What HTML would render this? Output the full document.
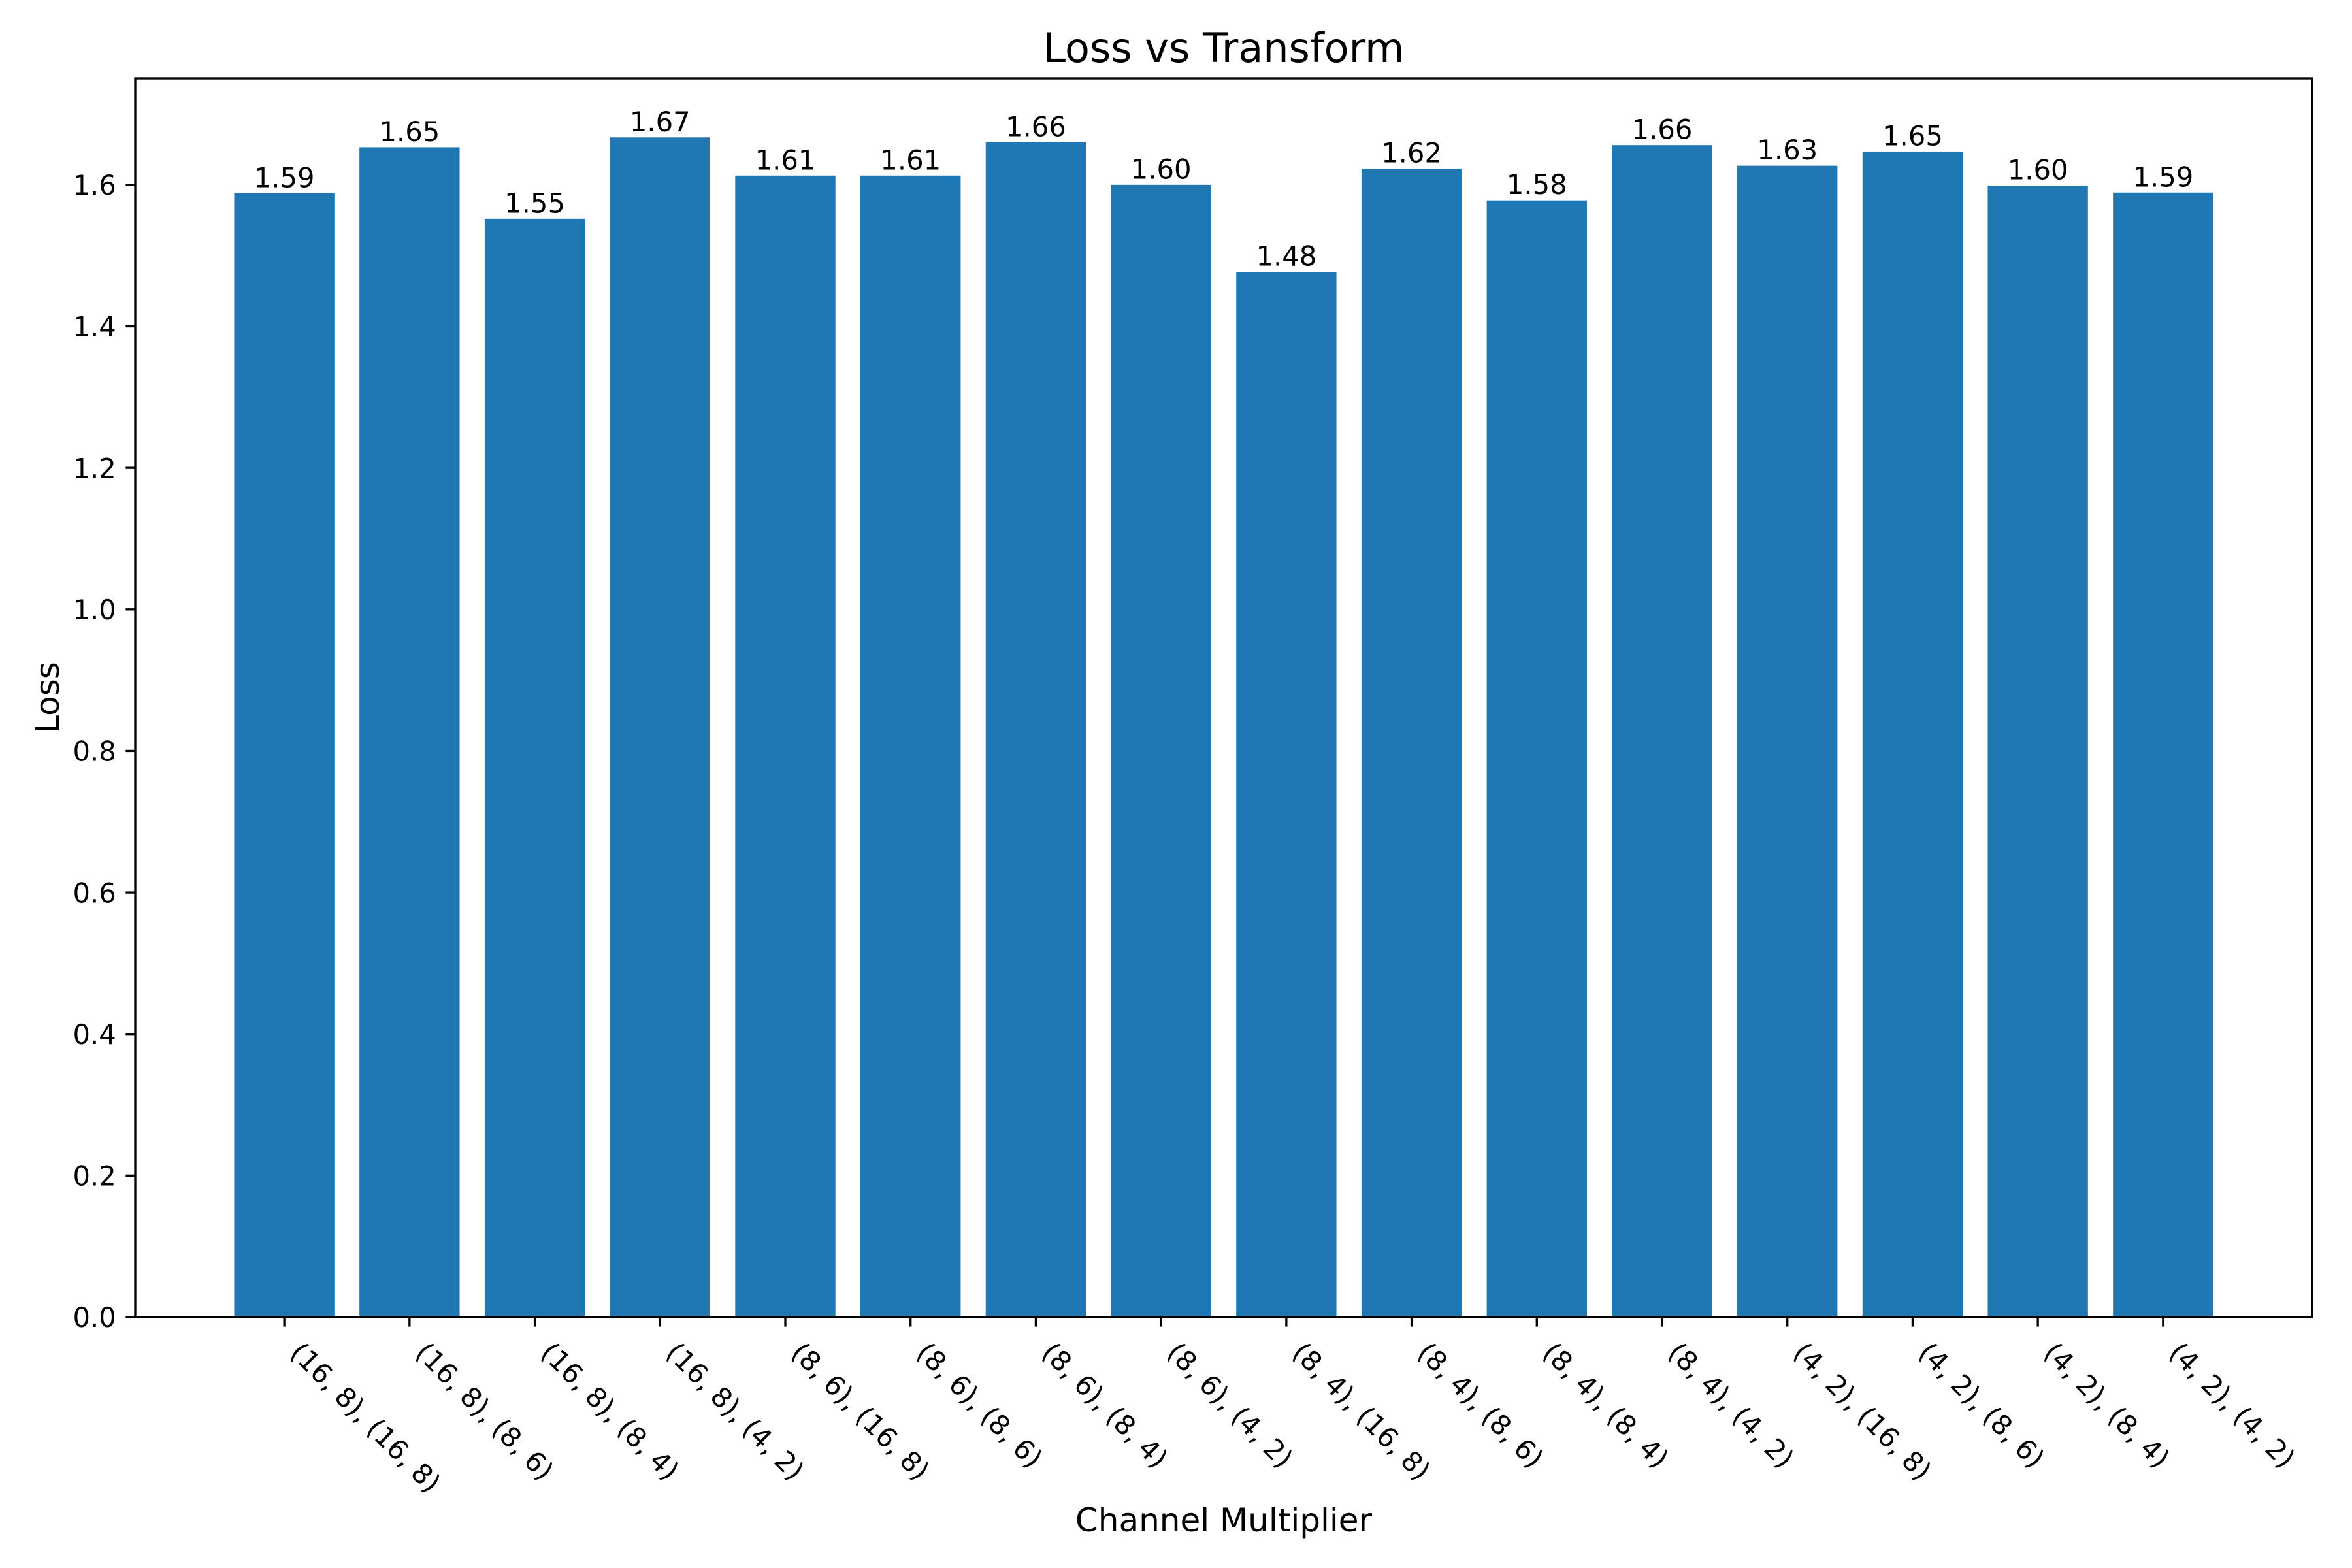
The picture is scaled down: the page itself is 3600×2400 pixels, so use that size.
<!DOCTYPE html>
<html><head><meta charset="utf-8"><style>
html,body{margin:0;padding:0;background:#fff;}
svg{display:block;font-family:"DejaVu Sans","Liberation Sans",sans-serif;}
</style></head><body>
<svg id="chart" width="3600" height="2400" viewBox="0 0 3600 2400" xmlns="http://www.w3.org/2000/svg">
<rect x="0" y="0" width="3600" height="2400" fill="#fff"/>
<g id="bars"></g>
<g id="labels"></g>
<g id="yaxis"></g>
<g id="xaxis"></g>
<rect x="207" y="120" width="3332" height="1896" fill="none" stroke="#000" stroke-width="3.33"/>
<text x="1873" y="95" font-size="62" text-anchor="middle">Loss vs Transform</text>
<text x="1873" y="2344" font-size="50" text-anchor="middle">Channel Multiplier</text>
<text transform="translate(90,1068) rotate(-90)" x="0" y="0" font-size="50" text-anchor="middle">Loss</text>
</svg>
<script>
const categories = ["(16, 8), (16, 8)","(16, 8), (8, 6)","(16, 8), (8, 4)","(16, 8), (4, 2)","(8, 6), (16, 8)","(8, 6), (8, 6)","(8, 6), (8, 4)","(8, 6), (4, 2)","(8, 4), (16, 8)","(8, 4), (8, 6)","(8, 4), (8, 4)","(8, 4), (4, 2)","(4, 2), (16, 8)","(4, 2), (8, 6)","(4, 2), (8, 4)","(4, 2), (4, 2)"];
const lossValues = [1.588,1.653,1.552,1.667,1.613,1.613,1.660,1.600,1.477,1.623,1.578,1.656,1.627,1.647,1.599,1.589];
const yTicks = [0.0,0.2,0.4,0.6,0.8,1.0,1.2,1.4,1.6];
const yTickLabels = ["0.0","0.2","0.4","0.6","0.8","1.0","1.2","1.4","1.6"];

const NS = "http://www.w3.org/2000/svg";
const AX = {l:207, r:3539, t:120, b:2016};
const n = categories.length;
const xMin = -0.4 - 0.05*(n-1+0.8), xMax = (n-1)+0.4 + 0.05*(n-1+0.8);
const yMax = Math.max(...lossValues)*1.05;
function xs(v){ return AX.l + (v - xMin)/(xMax - xMin)*(AX.r-AX.l); }
function ys(v){ return AX.b - v/yMax*(AX.b-AX.t); }
function mk(tag, attrs){ const e=document.createElementNS(NS,tag); for(const k in attrs) e.setAttribute(k,attrs[k]); return e; }

const gB=document.getElementById('bars'), gL=document.getElementById('labels'), gY=document.getElementById('yaxis'), gX=document.getElementById('xaxis');
lossValues.forEach((v,i)=>{
  const x0=xs(i-0.4), x1=xs(i+0.4), yt=ys(v);
  const r=mk('rect',{x:x0,y:yt,width:x1-x0,height:AX.b-yt,fill:'#1f77b4'});
  
  
  gB.appendChild(r);
  const t=mk('text',{x:xs(i),y:yt-9.5,'font-size':41.7,'text-anchor':'middle'});
  t.textContent=v.toFixed(2);
  
  
  gL.appendChild(t);
  const tk=mk('line',{x1:xs(i),x2:xs(i),y1:AX.b,y2:AX.b+14.6,stroke:'#000','stroke-width':3.33});
  
  
  gX.appendChild(tk);
  const lx=xs(i)+6.9, ly=2072.4;
  const tl=mk('text',{x:0,y:0,'font-size':41.7,transform:`translate(${lx},${ly}) rotate(45)`});
  tl.textContent=categories[i];
  
  
  gX.appendChild(tl);
});
yTicks.forEach((v,i)=>{
  const y=ys(v);
  const tk=mk('line',{x1:AX.l-14.6,x2:AX.l,y1:y,y2:y,stroke:'#000','stroke-width':3.33});
  
  
  gY.appendChild(tk);
  const t=mk('text',{x:AX.l-29.2,y:y+15.2,'font-size':41.7,'text-anchor':'end'});
  t.textContent=yTickLabels[i];
  
  
  gY.appendChild(t);
});
</script>
</body></html>
